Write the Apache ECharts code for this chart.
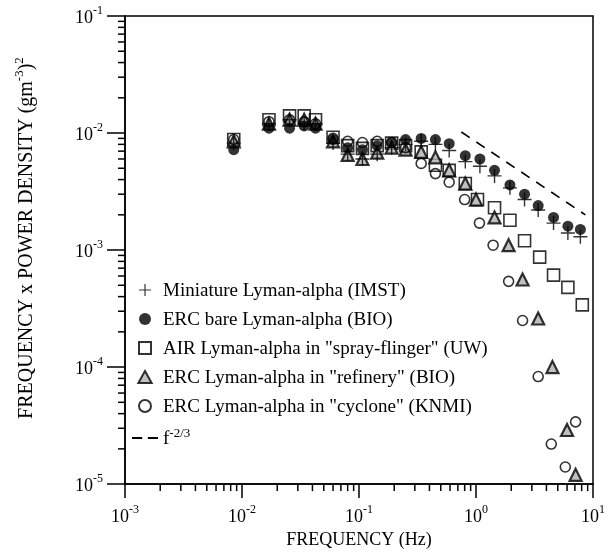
<!DOCTYPE html>
<html>
<head>
<meta charset="utf-8">
<script src="https://cdn.jsdelivr.net/npm/echarts@6/dist/echarts.min.js"></script>
<style>
  html, body { margin: 0; padding: 0; background: #fff; }
  #chart { width: 608px; height: 554px; }
</style>
</head>
<body>
<div id="chart"></div>
<script>
// Spectra: frequency (Hz) and frequency x power density ((g m^-3)^2)
const imstFreq = [0.0085, 0.017, 0.0255, 0.034, 0.0425, 0.06, 0.08, 0.107, 0.143, 0.19, 0.25, 0.34, 0.45, 0.59, 0.81, 1.08, 1.44, 1.95, 2.6, 3.4, 4.6, 6.1, 7.8];
const imstVals = [0.0082, 0.012, 0.013, 0.012, 0.012, 0.0082, 0.0066, 0.0060, 0.0066, 0.0075, 0.0080, 0.0085, 0.0080, 0.0071, 0.0057, 0.0052, 0.0043, 0.0034, 0.0027, 0.0022, 0.0017, 0.0014, 0.0013];

const bareFreq = [0.0085, 0.017, 0.0255, 0.034, 0.0425, 0.06, 0.08, 0.107, 0.143, 0.19, 0.25, 0.34, 0.45, 0.59, 0.81, 1.08, 1.44, 1.95, 2.6, 3.4, 4.6, 6.1, 7.8];
const bareVals = [0.0072, 0.011, 0.0110, 0.0115, 0.011, 0.0088, 0.0075, 0.0072, 0.0078, 0.0083, 0.0088, 0.0090, 0.0088, 0.0081, 0.0064, 0.0060, 0.0048, 0.0036, 0.0030, 0.0024, 0.0019, 0.0016, 0.0015];

const airFreq = [0.0085, 0.017, 0.0255, 0.034, 0.0425, 0.06, 0.08, 0.107, 0.143, 0.19, 0.25, 0.34, 0.45, 0.59, 0.81, 1.03, 1.44, 1.95, 2.6, 3.5, 4.6, 6.1, 8.1];
const airVals = [0.0088, 0.013, 0.014, 0.014, 0.013, 0.0092, 0.0078, 0.0074, 0.0078, 0.0082, 0.0078, 0.0069, 0.0053, 0.0048, 0.0037, 0.0027, 0.0023, 0.0018, 0.0012, 0.00087, 0.00061, 0.00048, 0.00034];

const refineryFreq = [0.0085, 0.017, 0.0255, 0.034, 0.0425, 0.06, 0.08, 0.107, 0.143, 0.19, 0.25, 0.34, 0.45, 0.59, 0.81, 1.0, 1.44, 1.9, 2.5, 3.4, 4.5, 6.0, 7.1];
const refineryVals = [0.0085, 0.012, 0.013, 0.013, 0.012, 0.0085, 0.0065, 0.0060, 0.0068, 0.0075, 0.0072, 0.0069, 0.0062, 0.0048, 0.0037, 0.0027, 0.0019, 0.0011, 0.00056, 0.00026, 0.0001, 0.000029, 0.000012];

const cycloneFreq = [0.0085, 0.017, 0.0255, 0.034, 0.0425, 0.06, 0.08, 0.107, 0.143, 0.19, 0.25, 0.34, 0.45, 0.59, 0.8, 1.07, 1.4, 1.9, 2.5, 3.4, 4.4, 5.8, 7.1];
const cycloneVals = [0.0088, 0.0125, 0.013, 0.0125, 0.012, 0.0090, 0.0085, 0.0083, 0.0085, 0.0083, 0.0075, 0.0055, 0.0045, 0.0038, 0.0027, 0.0017, 0.0011, 0.00054, 0.00025, 0.000083, 0.000022, 0.000014, 0.000034];

// Reference slope f^-2/3 (end points)
const slopeFreq = [0.75, 8.6];
const slopeVals = [0.0102, 0.002];

// Axis decades and the 2..9 minor tick multipliers
const xDecades = [-3, -2, -1, 0];
const yDecades = [-5, -4, -3, -2];
const minorMultipliers = [2, 3, 4, 5, 6, 7, 8, 9];

const seriesNames = [
  'Miniature Lyman-alpha (IMST)',
  'ERC bare Lyman-alpha (BIO)',
  'AIR Lyman-alpha in "spray-flinger" (UW)',
  'ERC Lyman-alpha in "refinery" (BIO)',
  'ERC Lyman-alpha in "cyclone" (KNMI)',
  'f-2/3'
];

const X_MIN = 1e-3, X_MAX = 10, Y_MIN = 1e-5, Y_MAX = 1e-1;
const FONT = '"Liberation Serif", "Times New Roman", serif';

const pairs = (xs, ys) => xs.map((x, i) => [x, ys[i]]);
const minorValues = (decades) => {
  const out = [];
  decades.forEach(d => minorMultipliers.forEach(m => out.push(m * Math.pow(10, d))));
  return out;
};

const supRich = {
  b: { fontFamily: FONT, fontSize: 18, color: '#000', lineHeight: 22, verticalAlign: 'bottom' },
  s: { fontFamily: FONT, fontSize: 12, color: '#000', lineHeight: 12, verticalAlign: 'top' }
};
const powerLabel = (v) => '{b|10}{s|' + Math.round(Math.log10(v)) + '}';

const plusPath = 'path://M9,0h2v9h9v2h-9v9h-2v-9h-9v-2h9z';
const squarePath = 'path://M0,0H10V10H0Z';
const trianglePath = 'path://M5,0L10,9L0,9Z';
const dashPath = 'path://M0,0h9v1.6h-9zM14,0h9v1.6h-9z';

const chart = echarts.init(document.getElementById('chart'), null, { renderer: 'canvas' });

chart.setOption({
  backgroundColor: '#fff',
  animation: false,
  grid: {
    left: 125, right: 14, top: 16, bottom: 66,
    show: true, borderColor: '#000', borderWidth: 1.5, backgroundColor: 'transparent'
  },
  legend: {
    orient: 'vertical',
    left: 127, top: 277,
    itemWidth: 26, itemHeight: 12, itemGap: 10,
    symbolKeepAspect: true,
    selectedMode: false,
    data: [
      { name: seriesNames[0] },
      { name: seriesNames[1] },
      { name: seriesNames[2] },
      { name: seriesNames[3] },
      { name: seriesNames[4] },
      { name: seriesNames[5], icon: dashPath, itemStyle: { color: '#000', borderWidth: 0 } }
    ],
    textStyle: {
      fontFamily: FONT, fontSize: 19, color: '#000',
      rich: {
        n: { fontFamily: FONT, fontSize: 19, color: '#000', lineHeight: 22, verticalAlign: 'bottom' },
        s: { fontFamily: FONT, fontSize: 13, color: '#000', lineHeight: 12, verticalAlign: 'top' }
      }
    },
    formatter: (name) => name === 'f-2/3' ? '{n|f}{s|-2/3}' : '{n|' + name + '}'
  },
  xAxis: {
    type: 'log', logBase: 10, min: X_MIN, max: X_MAX, interval: 1,
    name: 'FREQUENCY (Hz)', nameLocation: 'middle', nameGap: 43,
    nameTextStyle: { fontFamily: FONT, fontSize: 18, color: '#000' },
    axisLine: { show: true, lineStyle: { color: '#000', width: 1.5 } },
    axisTick: { show: true, inside: false, length: 14, lineStyle: { color: '#000', width: 1.5 } },
    axisLabel: { margin: 20, formatter: powerLabel, rich: supRich },
    splitLine: { show: false }
  },
  yAxis: {
    type: 'log', logBase: 10, min: Y_MIN, max: Y_MAX, interval: 1,
    name: '{t|FREQUENCY x POWER DENSITY (gm}{s|-3}{t|)}{s|2}',
    nameLocation: 'middle', nameGap: 88, nameRotate: 90,
    nameTextStyle: {
      padding: [0, 0, 0, 24],
      rich: {
        t: { fontFamily: FONT, fontSize: 20, color: '#000', lineHeight: 24, verticalAlign: 'bottom' },
        s: { fontFamily: FONT, fontSize: 13, color: '#000', lineHeight: 13, verticalAlign: 'top' }
      }
    },
    axisLine: { show: true, lineStyle: { color: '#000', width: 1.5 } },
    axisTick: { show: true, inside: false, length: 18, lineStyle: { color: '#000', width: 1.5 } },
    axisLabel: { margin: 22, formatter: powerLabel, rich: supRich },
    splitLine: { show: false }
  },
  series: [
    {
      name: seriesNames[0], type: 'scatter',
      data: pairs(imstFreq, imstVals),
      symbol: plusPath, symbolSize: 14,
      itemStyle: { color: '#000' }, z: 5
    },
    {
      name: seriesNames[1], type: 'scatter',
      data: pairs(bareFreq, bareVals),
      symbol: 'circle', symbolSize: 11,
      itemStyle: { color: '#000' }, z: 4
    },
    {
      name: seriesNames[2], type: 'scatter',
      data: pairs(airFreq, airVals),
      symbol: squarePath, symbolSize: 12,
      itemStyle: { color: 'rgba(255,255,255,0)', borderColor: '#000', borderWidth: 1.6 }, z: 3
    },
    {
      name: seriesNames[3], type: 'scatter',
      data: pairs(refineryFreq, refineryVals),
      symbol: trianglePath, symbolSize: 12,
      itemStyle: { color: '#b0b0b0', borderColor: '#000', borderWidth: 2.2 }, z: 3
    },
    {
      name: seriesNames[4], type: 'scatter',
      data: pairs(cycloneFreq, cycloneVals),
      symbol: 'circle', symbolSize: 10,
      itemStyle: { color: 'rgba(255,255,255,0)', borderColor: '#000', borderWidth: 1.6 }, z: 3
    },
    {
      name: seriesNames[5], type: 'line',
      data: pairs(slopeFreq, slopeVals),
      symbol: 'none', showSymbol: false,
      itemStyle: { color: '#000' },
      lineStyle: { color: '#000', width: 1.6, type: [10, 8] }, z: 2
    },
    // minor ticks of the frequency axis
    {
      type: 'custom', silent: true, clip: false, z: 6,
      data: minorValues(xDecades).map(v => [v, Y_MIN]),
      renderItem: (params, api) => {
        const p = api.coord([api.value(0), Y_MIN]);
        return { type: 'line', shape: { x1: p[0], y1: p[1], x2: p[0], y2: p[1] + 7 },
                 style: { stroke: '#000', lineWidth: 1.5 } };
      }
    },
    // minor ticks of the spectral axis
    {
      type: 'custom', silent: true, clip: false, z: 6,
      data: minorValues(yDecades).map(v => [X_MIN, v]),
      renderItem: (params, api) => {
        const p = api.coord([X_MIN, api.value(1)]);
        return { type: 'line', shape: { x1: p[0], y1: p[1], x2: p[0] - 7, y2: p[1] },
                 style: { stroke: '#000', lineWidth: 1.5 } };
      }
    }
  ]
});
</script>
</body>
</html>
